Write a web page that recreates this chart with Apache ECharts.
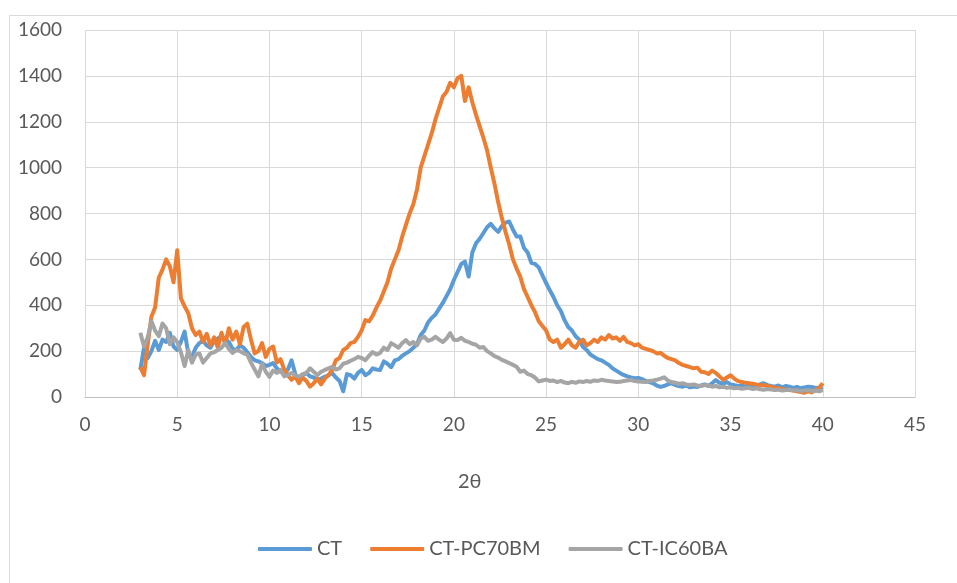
<!DOCTYPE html>
<html>
<head>
<meta charset="utf-8">
<script src="https://cdn.jsdelivr.net/npm/echarts@6/dist/echarts.min.js"></script>
<style>html,body{margin:0;padding:0;background:#fff}#c{width:957px;height:583px}</style>
</head>
<body>
<div id="c"></div>
<script>
// sample grid: 2θ from 3.0 to 40.0 in 0.2 steps
const thetaStart = 3.0;
const thetaStep = 0.2;
const seriesNames = ['CT', 'CT-PC70BM', 'CT-IC60BA'];
const xTicks = [0, 5, 10, 15, 20, 25, 30, 35, 40, 45];
const yTicks = [0, 200, 400, 600, 800, 1000, 1200, 1400, 1600];
const xTitle = '2θ';

const ct = [
  118,215,170,200,245,205,250,240,280,220,
  205,240,285,190,175,215,235,245,225,215,
  245,255,265,250,240,210,205,225,215,195,
  175,160,155,148,135,140,148,125,110,105,
  120,160,100,75,95,105,90,85,75,80,
  88,95,105,85,70,25,100,95,80,105,
  118,95,105,125,120,118,155,145,130,160,
  165,180,190,200,215,230,270,290,325,345,
  360,385,410,440,470,510,545,580,590,525,
  630,670,690,715,740,755,735,720,745,760,
  765,730,700,700,650,630,585,580,565,530,
  497,465,436,400,375,335,305,290,265,250,
  218,205,185,175,165,160,150,140,125,115,
  105,96,90,85,82,83,78,70,65,60,
  50,44,48,55,60,52,48,45,50,42,
  46,44,50,55,48,60,74,62,58,65,
  55,52,48,50,45,55,50,48,55,60,
  52,48,45,50,42,48,45,40,44,38,
  42,45,44,40,38,42
];
const ctPC70BM = [
  130,95,230,350,390,520,555,600,570,500,
  640,430,395,365,300,270,285,240,275,225,
  260,215,280,230,300,250,285,230,305,320,
  250,190,200,235,175,210,220,150,165,120,
  95,75,90,60,85,70,45,60,80,55,
  80,95,118,160,170,205,215,235,240,262,
  290,335,330,355,390,420,460,500,560,600,
  640,700,750,800,840,905,1000,1050,1100,1150,
  1210,1260,1310,1330,1370,1350,1390,1400,1290,1350,
  1285,1230,1180,1130,1075,1000,930,850,780,720,
  665,600,560,525,470,436,400,370,330,310,
  290,250,240,250,215,230,250,225,215,240,
  250,225,235,250,240,260,250,270,255,260,
  245,262,240,235,225,230,215,210,205,200,
  190,192,180,170,165,160,148,140,135,130,
  125,128,110,108,100,115,105,90,75,85,
  95,80,70,65,62,60,58,55,50,52,
  48,45,40,38,35,32,30,28,25,22,
  18,25,20,30,40,60
];
const ctIC60BA = [
  280,220,260,330,290,265,320,300,230,260,
  240,195,135,205,150,185,190,150,170,190,
  195,205,215,235,210,192,205,200,190,185,
  150,120,90,145,110,88,115,105,118,90,
  95,105,95,88,100,105,125,110,96,110,
  118,125,131,120,125,145,150,158,165,175,
  170,160,180,196,185,192,215,205,235,225,
  215,235,248,230,240,225,255,262,245,250,
  262,250,240,255,278,250,248,258,245,240,
  232,228,215,218,200,190,178,172,162,155,
  148,140,132,110,115,100,95,85,68,72,
  76,70,72,65,70,63,60,66,62,68,
  65,70,66,72,70,75,72,70,68,65,
  66,70,72,74,70,68,66,65,70,72,
  75,80,86,72,65,62,58,60,55,52,
  55,50,48,52,50,45,48,42,45,40,
  42,38,40,36,38,40,35,38,34,32,
  35,33,30,32,28,30,32,28,30,26,
  28,30,26,28,25,30
];

function pairs(vals) {
  return vals.map((v, i) => [+(thetaStart + i * thetaStep).toFixed(2), v]);
}

const colors = ['#5B9BD5', '#ED7D31', '#A5A5A5'];
const allVals = [ct, ctPC70BM, ctIC60BA];
const FONT = 'Lato';
const chart = echarts.init(document.getElementById('c'), null, {renderer: 'canvas'});
chart.setOption({
  animation: false,
  backgroundColor: '#ffffff',
  color: colors,
  graphic: [{
    type: 'rect', silent: true, z: -10,
    shape: {x: 9.5, y: 15.5, width: 1200, height: 1200},
    style: {fill: 'none', stroke: '#D9D9D9', lineWidth: 1}
  }, {
    type: 'text', silent: true, left: 458, top: 472,
    style: {text: xTitle, fill: '#595959', font: '20px Lato'}
  }],
  grid: {left: 85, right: 42, top: 30, bottom: 186, containLabel: false},
  xAxis: {
    type: 'value', min: xTicks[0], max: xTicks[xTicks.length - 1], interval: 5,
    axisLine: {show: true, lineStyle: {color: '#BFBFBF', width: 1}},
    axisTick: {show: false},
    axisLabel: {color: '#595959', fontSize: 19, fontFamily: FONT, margin: 18},
    splitLine: {show: true, lineStyle: {color: '#D9D9D9', width: 1}}
  },
  yAxis: {
    type: 'value', min: yTicks[0], max: yTicks[yTicks.length - 1], interval: 200,
    axisLine: {show: false},
    axisTick: {show: false},
    axisLabel: {color: '#595959', fontSize: 19, fontFamily: FONT, margin: 23,
      formatter: v => String(v)},
    splitLine: {show: true, lineStyle: {color: '#D9D9D9', width: 1}}
  },
  legend: {
    left: 258, top: 539, padding: 0,
    icon: 'roundRect',
    itemWidth: 54, itemHeight: 4, itemGap: 28,
    textStyle: {color: '#595959', fontSize: 20, fontFamily: FONT},
    data: seriesNames
  },
  series: seriesNames.map((n, k) => ({
    name: n, type: 'line', data: pairs(allVals[k]),
    showSymbol: false, symbol: 'none', smooth: false,
    lineStyle: {width: 4, color: colors[k], join: 'round'},
    z: 2 + k
  }))
});
</script>
</body>
</html>
